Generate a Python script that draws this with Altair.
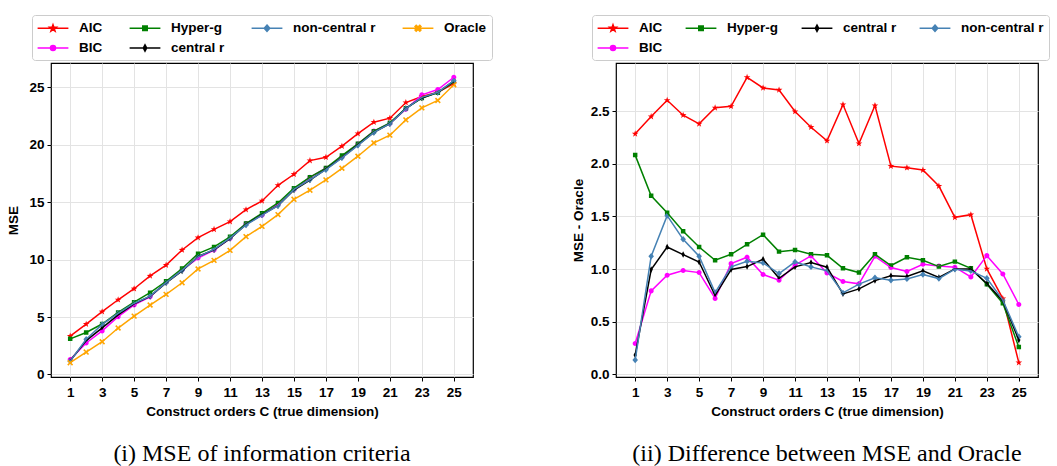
import altair as alt
import pandas as pd

# ---------------- data ----------------
orders = list(range(1, 26))

mse_aic = [3.34, 4.38, 5.46, 6.50, 7.46, 8.57, 9.52, 10.83, 11.90, 12.63, 13.30, 14.34, 15.10,
           16.46, 17.42, 18.61, 18.90, 19.86, 20.96, 21.95, 22.30, 23.66, 24.19, 24.56, 25.31]
mse_bic = [1.31, 2.74, 3.79, 5.03, 6.05, 6.76, 8.02, 9.09, 10.13, 10.82, 11.84, 13.12, 13.85,
           14.79, 16.10, 17.15, 17.95, 18.92, 20.04, 21.18, 21.84, 23.08, 24.33, 24.79, 25.86]
mse_hyperg = [3.10, 3.65, 4.39, 5.40, 6.29, 7.12, 8.11, 9.22, 10.51, 11.10, 11.98, 13.13, 14.02,
              14.92, 16.21, 17.17, 17.96, 19.05, 20.07, 21.17, 21.89, 23.16, 24.06, 24.52, 25.46]
mse_central = [1.20, 2.95, 4.06, 5.18, 6.15, 6.79, 7.97, 9.00, 10.27, 10.84, 11.82, 13.05, 13.91,
               14.68, 16.05, 16.92, 17.87, 18.87, 19.97, 21.07, 21.82, 23.15, 24.06, 24.54, 25.53]
mse_noncentral = [1.16, 3.07, 4.36, 5.32, 6.20, 6.82, 7.99, 9.06, 10.24, 10.89, 11.87, 13.01, 13.87,
                  14.68, 16.10, 16.95, 17.82, 18.85, 19.94, 21.06, 21.82, 23.13, 24.11, 24.55, 25.56]
mse_oracle = [1.02, 1.95, 2.85, 4.04, 5.08, 6.04, 6.97, 7.98, 9.18, 9.93, 10.80, 11.99, 12.89,
              13.91, 15.24, 16.03, 16.93, 17.94, 18.99, 20.15, 20.82, 22.15, 23.20, 23.84, 25.20]

diff_aic = [2.285, 2.449, 2.604, 2.462, 2.380, 2.532, 2.547, 2.822, 2.721, 2.702, 2.497, 2.348, 2.219,
            2.563, 2.193, 2.554, 1.978, 1.963, 1.941, 1.789, 1.492, 1.517, 1.002, 0.720, 0.111]
diff_bic = [0.294, 0.793, 0.942, 0.986, 0.967, 0.721, 1.052, 1.113, 0.948, 0.894, 1.037, 1.125, 0.964,
            0.882, 0.860, 1.122, 1.015, 0.977, 1.046, 1.030, 1.018, 0.926, 1.128, 0.954, 0.664]
diff_hyperg = [2.083, 1.697, 1.536, 1.359, 1.210, 1.084, 1.141, 1.236, 1.327, 1.166, 1.182, 1.141, 1.131,
               1.008, 0.967, 1.141, 1.034, 1.113, 1.084, 1.024, 1.071, 1.008, 0.857, 0.676, 0.259]
diff_central = [0.183, 0.996, 1.210, 1.138, 1.068, 0.749, 0.996, 1.024, 1.094, 0.913, 1.021, 1.062, 1.018,
                0.765, 0.812, 0.891, 0.936, 0.929, 0.983, 0.920, 1.002, 1.002, 0.863, 0.698, 0.326]
diff_noncentral = [0.136, 1.122, 1.508, 1.283, 1.122, 0.777, 1.021, 1.075, 1.059, 0.958, 1.068, 1.021, 0.983,
                   0.774, 0.857, 0.917, 0.894, 0.907, 0.948, 0.910, 0.999, 0.983, 0.913, 0.705, 0.357]

left_series = {"AIC": mse_aic, "BIC": mse_bic, "Hyper-g": mse_hyperg,
               "central r": mse_central, "non-central r": mse_noncentral, "Oracle": mse_oracle}
right_series = {"AIC": diff_aic, "BIC": diff_bic, "Hyper-g": diff_hyperg,
                "central r": diff_central, "non-central r": diff_noncentral}

# scale domain order chosen so that the legend shows
#   AIC | Hyper-g | non-central r | Oracle  /  BIC | central r   (left)
#   AIC | Hyper-g | central r | non-central r  /  BIC           (right)
left_legend_order = ["AIC", "Oracle", "Hyper-g", "BIC", "non-central r", "central r"]
right_legend_order = ["AIC", "non-central r", "Hyper-g", "BIC", "central r"]

colors = {"AIC": "#ff0000", "BIC": "#ff00ff", "Hyper-g": "#008000",
          "central r": "#000000", "non-central r": "#4682b4", "Oracle": "#ffa500"}

# marker paths (line segment is only visible in the legend, stroke width 0 in plot)
LINE = "M-2.2,0H2.2"
markers = {
    "AIC": "M0,-0.5L0.1176,-0.1618L0.4755,-0.1545L0.1902,0.0618L0.2939,0.4045L0,0.2L-0.2939,0.4045L-0.1902,0.0618L-0.4755,-0.1545L-0.1176,-0.1618Z",
    "BIC": "M-0.36,0A0.36,0.36,0,1,0,0.36,0A0.36,0.36,0,1,0,-0.36,0Z",
    "Hyper-g": "M-0.32,-0.32H0.32V0.32H-0.32Z",
    "central r": "M0,-0.46L0.24,0L0,0.46L-0.24,0Z",
    "non-central r": "M0,-0.46L0.4,0L0,0.46L-0.4,0Z",
    "Oracle": "M-0.42,-0.26L-0.26,-0.42L0,-0.16L0.26,-0.42L0.42,-0.26L0.16,0L0.42,0.26L0.26,0.42L0,0.16L-0.26,0.42L-0.42,0.26L-0.16,0Z",
}
paths = {k: LINE + v for k, v in markers.items()}


def to_long(series):
    rows = []
    for name, vals in series.items():
        for c, v in zip(orders, vals):
            rows.append({"C": c, "value": v, "series": name})
    return pd.DataFrame(rows)


FONT = "Liberation Sans"


def panel(series, legend_order, ydomain, yvalues, yformat, ytitle, caption, legend_x, title_pad, colpad):
    df = to_long(series)
    cscale = alt.Scale(domain=legend_order, range=[colors[n] for n in legend_order])
    sscale = alt.Scale(domain=legend_order, range=[paths[n] for n in legend_order])
    leg = alt.Legend(
        title=None, orient="none", legendX=legend_x, legendY=-48, columns=4,
        strokeColor="#cccccc", fillColor="white", cornerRadius=3, padding=5,
        labelFont=FONT, labelFontWeight="bold", labelFontSize=13.5, labelColor="black",
        columnPadding=colpad, rowPadding=5, symbolOffset=8, labelOffset=18,
        symbolSize=196, symbolStrokeWidth=1.5, symbolOpacity=1,
    )
    x = alt.X("C:Q", scale=alt.Scale(domain=[-0.2, 26.2], nice=False, zero=False),
              axis=alt.Axis(values=list(range(1, 26, 2)), title="Construct orders C (true dimension)",
                            labelPadding=4, titlePadding=6))
    y = alt.Y("value:Q", scale=alt.Scale(domain=ydomain, nice=False, zero=False),
              axis=alt.Axis(values=yvalues, format=yformat, title=ytitle, titlePadding=title_pad))
    pts = alt.Chart(df).mark_point(filled=True, strokeWidth=0, opacity=1, size=196).encode(
        x=x, y=y,
        color=alt.Color("series:N", scale=cscale, legend=leg),
        stroke=alt.Stroke("series:N", scale=cscale, legend=leg),
        shape=alt.Shape("series:N", scale=sscale, legend=leg),
    )
    lines = alt.Chart(df).mark_line(strokeWidth=1.5).encode(
        x=x, y=y, color=alt.Color("series:N", scale=cscale))
    return alt.layer(pts, lines).properties(
        width=422, height=314,
        title=alt.TitleParams(caption, orient="bottom", font="Liberation Serif", fontSize=24,
                              fontWeight="normal", color="black", frame="group", offset=24),
    )


left = panel(left_series, left_legend_order, [-0.22, 27.1], [0, 5, 10, 15, 20, 25], "d",
             "MSE", "(i) MSE of information criteria", -19, 8, 23)
right = panel(right_series, right_legend_order, [-0.025, 2.958], [0, 0.5, 1, 1.5, 2, 2.5], ".1f",
              "MSE - Oracle", "(ii) Difference between MSE and Oracle", -24, 5, 19)

chart = alt.hconcat(left, right, spacing=76).resolve_scale(
    color="independent", stroke="independent", shape="independent"
).resolve_legend(
    color="independent", stroke="independent", shape="independent"
).properties(
    padding={"left": 6, "top": 13, "right": 0, "bottom": 0},
    background="white",
).configure_view(
    stroke="black", strokeWidth=1.2
).configure_axis(
    labelFont=FONT, labelFontWeight="bold", labelFontSize=13.5, labelColor="black",
    titleFont=FONT, titleFontWeight="bold", titleFontSize=13.5, titleColor="black",
    domain=False, tickColor="black", tickSize=4, labelPadding=3,
    gridColor="#e3e3e3", gridWidth=1,
)

chart.save("out.html", embed_options={"renderer": "svg", "actions": False})
